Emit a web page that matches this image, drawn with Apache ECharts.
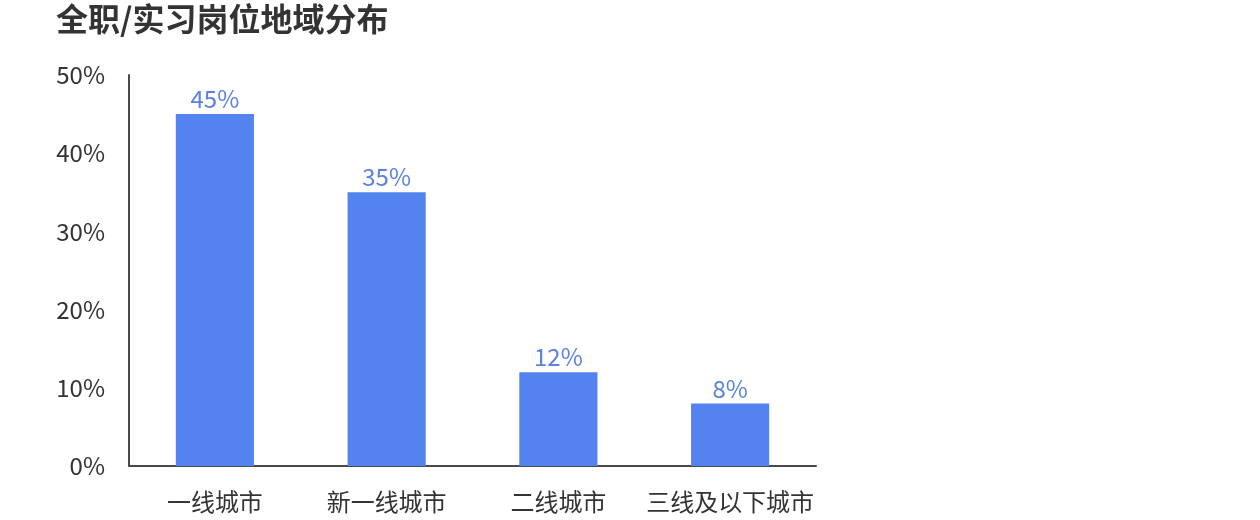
<!DOCTYPE html>
<html>
<head>
<meta charset="utf-8">
<script src="https://cdn.jsdelivr.net/npm/echarts@6/dist/echarts.min.js"></script>
<style>
  html, body { margin: 0; padding: 0; background: #fff; }
  #chart { width: 1260px; height: 520px; }
</style>
</head>
<body>
<div id="chart"></div>
<script>
const titleText = '全职/实习岗位地域分布';
const categories = ['一线城市', '新一线城市', '二线城市', '三线及以下城市'];
const shares = [45, 35, 12, 8];
const yTicks = { min: 0, max: 50, interval: 10 };

const FONT = '"Noto Sans CJK SC", "Noto Sans", sans-serif';

const chart = echarts.init(document.getElementById('chart'));
chart.setOption({
  backgroundColor: '#ffffff',
  animation: false,
  title: {
    text: titleText,
    left: 51,
    top: -2,
    textStyle: { fontFamily: FONT, fontSize: 32, fontWeight: 'bold', color: '#333333' }
  },
  grid: { left: 129, right: 444, top: 75, bottom: 54, containLabel: false },
  xAxis: {
    type: 'category',
    data: categories,
    axisLine: { lineStyle: { color: '#4a4a4a', width: 2 } },
    axisTick: { show: false },
    axisLabel: { interval: 0, fontFamily: FONT, fontSize: 24, color: '#333333', margin: 24 }
  },
  yAxis: {
    type: 'value',
    min: yTicks.min,
    max: yTicks.max,
    interval: yTicks.interval,
    axisLine: { show: true, lineStyle: { color: '#4a4a4a', width: 2 } },
    axisTick: { show: false },
    splitLine: { show: false },
    axisLabel: { fontFamily: FONT, fontSize: 24, color: '#333333', margin: 24, formatter: '{value}%' }
  },
  series: [{
    type: 'bar',
    data: shares,
    barWidth: '45.5%',
    itemStyle: { color: '#5283ee' },
    label: {
      show: true,
      position: 'top',
      distance: 3,
      formatter: '{c}%',
      fontFamily: FONT,
      fontSize: 24,
      color: '#5a82e0'
    }
  }]
});
</script>
</body>
</html>
